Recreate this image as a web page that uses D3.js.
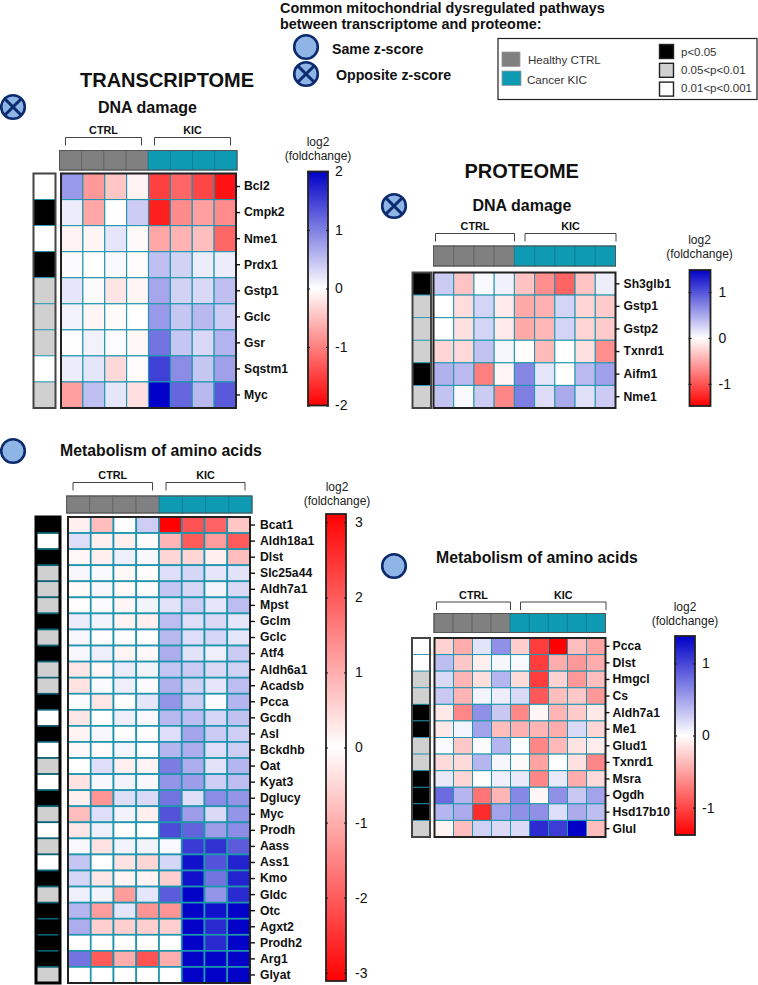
<!DOCTYPE html>
<html>
<head>
<meta charset="utf-8">
<script src="https://d3js.org/d3.v7.min.js"></script>
<style>
  html, body { margin: 0; padding: 0; background: #fff; }
  svg { display: block; }
  text { font-family: "Liberation Sans", Arial, sans-serif; fill: #111; }
  .b { font-weight: bold; }
</style>
</head>
<body>
<script>
// Groups: how many samples are healthy / cancer in each heatmap
const groupsTranscriptome = ["CTRL", "CTRL", "CTRL", "CTRL", "KIC", "KIC", "KIC", "KIC"];
const groupsProteome = ["CTRL", "CTRL", "CTRL", "CTRL", "KIC", "KIC", "KIC", "KIC", "KIC"];

// Transcriptome, DNA damage
const genesA = ["Bcl2", "Cmpk2", "Nme1", "Prdx1", "Gstp1", "Gclc", "Gsr", "Sqstm1", "Myc"];
const sigA = [2, 0, 2, 0, 1, 1, 1, 2, 1];
const valuesA = [
  [0.8, -0.8, -0.45, -0.1, -1.5, -1.2, -1.45, -1.85],
  [0.15, -0.7, 0, 0.4, -1.75, -0.9, -0.75, -0.9],
  [-0.1, -0.08, 0.2, -0.05, -0.7, -0.6, -0.5, -1.2],
  [0.03, 0, 0.05, -0.03, 0.5, 0.35, 0.15, 0.15],
  [0.2, 0.03, -0.2, -0.08, 0.7, 0.35, 0.3, 0.5],
  [0.1, -0.08, -0.03, 0, 0.8, 0.45, 0.55, 0.4],
  [0.01, 0.1, 0.02, -0.07, 1.1, 0.45, 0.3, 0.6],
  [0.15, 0.2, -0.3, -0.03, 1.5, 0.9, 0.45, 0.75],
  [-0.75, 0.5, 0.2, -0.25, 2, 1.2, 0.55, 1.3]
];

// Proteome, DNA damage
const genesB = ["Sh3glb1", "Gstp1", "Gstp2", "Txnrd1", "Aifm1", "Nme1"];
const sigB = [0, 1, 1, 1, 0, 1];
const valuesB = [
  [0.3, -0.35, 0.03, 0.08, -0.35, -0.65, -0.9, -0.35, 0.1],
  [0, -0.2, 0.25, -0.12, -0.5, -0.45, 0.25, -0.25, -0.3],
  [0, -0.18, 0.25, -0.12, -0.5, -0.42, 0.25, -0.25, -0.3],
  [-0.25, -0.22, 0.35, 0.05, -0.02, -0.4, 0, -0.18, -0.65],
  [0.45, 0.4, -0.75, -0.06, 0.7, 0.15, 0, 0.4, 0.55],
  [0.35, 0.03, 0.3, -0.7, 0.75, 0.2, 0.5, 0.18, 0.3]
];

// Transcriptome, metabolism of amino acids
const genesC = ["Bcat1", "Aldh18a1", "Dlst", "Slc25a44", "Aldh7a1", "Mpst", "Gclm", "Gclc", "Atf4", "Aldh6a1",
  "Acadsb", "Pcca", "Gcdh", "Asl", "Bckdhb", "Oat", "Kyat3", "Dglucy", "Myc", "Prodh", "Aass", "Ass1", "Kmo",
  "Gldc", "Otc", "Agxt2", "Prodh2", "Arg1", "Glyat"];
const sigC = [0, 2, 0, 1, 1, 1, 0, 1, 0, 1, 1, 0, 2, 0, 2, 1, 2, 0, 1, 2, 1, 2, 0, 1, 0, 0, 0, 0, 1];
const valuesC = [
  [-0.2, -0.8, 0.03, 0.6, -3.1, -2.1, -1.9, -0.7],
  [0.4, -0.2, -0.2, 0.05, -0.9, -2, -1.2, -2],
  [-0.1, -0.2, 0.2, 0.1, -0.5, -0.5, -0.2, -0.8],
  [0.1, 0.06, -0.08, -0.03, 0.4, 0.5, 0.3, 0.35],
  [-0.05, 0.1, -0.06, 0.04, 0.7, 0.5, 0.15, 0.45],
  [-0.03, 0.05, -0.1, 0.15, 0.35, 0.6, 0.3, 0.8],
  [0.25, 0.15, -0.15, -0.2, 0.8, 0.4, 0.45, 0.3],
  [0.1, -0.03, 0.02, 0, 0.85, 0.4, 0.5, 0.3],
  [0.1, 0.2, -0.12, -0.08, 1, 0.35, 0.2, 0.65],
  [-0.3, -0.1, 0.25, 0.15, 0.7, 0.65, 0.45, 0.55],
  [-0.35, 0.05, 0.2, 0.05, 0.95, 0.55, 0.3, 0.8],
  [0.04, -0.3, -0.02, 0.3, 1.3, 0.6, 0.05, 0.9],
  [-0.3, 0, 0.2, 0.08, 0.85, 0.8, 0.5, 0.75],
  [-0.15, 0.1, 0.03, -0.02, 0.4, 1.1, 0.65, 0.6],
  [-0.08, -0.05, 0.12, 0.02, 0.9, 1, 0.4, 0.6],
  [0, 0.4, -0.2, -0.15, 1.6, 1, 0.35, 0.9],
  [-0.35, 0.1, 0.15, 0.1, 1.3, 1.2, 0.6, 0.8],
  [-0.2, -1.3, 0.4, 0.45, 1.7, 0.4, 1.4, 1.3],
  [-0.8, 0.4, 0.15, -0.2, 2.1, 1.2, 0.45, 1.3],
  [-0.3, 0.2, 0.03, 0, 2.2, 1.9, 1.2, 1.4],
  [0.08, -0.35, 0.15, 0.15, 0.08, 2.4, 2.5, 2],
  [0.7, 0, -0.35, -0.5, 0.5, 2.9, 2.1, 2.7],
  [0.5, -0.3, -0.15, -0.15, -0.6, 2.9, 1.7, 2.7],
  [0.2, 0.15, -1.2, 0.3, 2, 3.1, 1.3, 2.6],
  [0.9, -1.2, 0.3, -1.3, -1.3, 3.1, 2.9, 3.1],
  [1, -0.6, -0.6, -0.6, -0.6, 3.1, 2.6, 3.1],
  [0, 0, 0, 0, 0, 3.1, 2.6, 3.1],
  [1.7, -2, -1, -2.1, -1, 3.1, 3.1, 3.1],
  [0, 0, 0, 0, 0, 3.1, 3.1, 3.1]
];

// Proteome, metabolism of amino acids
const genesD = ["Pcca", "Dlst", "Hmgcl", "Cs", "Aldh7a1", "Me1", "Glud1", "Txnrd1", "Msra", "Ogdh", "Hsd17b10", "Glul"];
const sigD = [2, 2, 1, 1, 0, 0, 1, 1, 0, 0, 0, 1];
const valuesD = [
  [-0.25, -0.45, 0.15, 0.6, -0.27, -1.05, -1.38, -0.35, -0.5],
  [0.35, -0.3, -0.08, 0.05, 0.03, -1.05, -0.45, -0.55, -0.45],
  [0.2, -0.4, -0.18, 0.4, -0.2, -1.05, -0.25, -0.55, -0.35],
  [0.3, -0.4, 0.06, 0.1, 0.2, -0.9, -0.35, -0.3, -0.55],
  [-0.12, -0.65, 0.6, 0.3, -0.65, -0.05, -0.4, -0.28, -0.12],
  [-0.12, 0.06, 0.5, -0.35, -0.42, -0.4, -0.45, 0.2, -0.22],
  [0.03, -0.3, 0.02, 0.4, 0.01, -0.65, -0.38, -0.15, -0.1],
  [-0.2, -0.2, 0.4, 0.05, -0.03, -0.5, 0, -0.17, -0.65],
  [0.12, -0.22, 0, 0.08, 0.12, -0.65, 0.12, -0.45, -0.2],
  [0.8, 0.4, -0.75, -0.4, 0.65, -0.05, 0.6, 0.3, 0.5],
  [0.4, 0.45, -1.15, 0.5, 0.6, 0.6, 0.18, 0.45, 0.35],
  [-0.06, -0.35, 0.25, 0.2, 0.2, 1.15, 1.05, 1.38, -0.35]
];

const sigLabels = ["p<0.05", "0.05<p<0.01", "0.01<p<0.001"];
const groupLabels = ["Healthy CTRL", "Cancer KIC"];

const sigColors = ["#000", "#d0d0d0", "#fff"];
const groupColors = { CTRL: "#808080", KIC: "#0f9ab3" };
const teal = "#2095ad";
const navy = "#0c2a6e";
const circleFill = "#8fb4e6";

const svg = d3.select("body").append("svg").attr("width", 758).attr("height", 985);

const defs = svg.append("defs");

function addText(x, y, str, size, opts = {}) {
  return svg.append("text")
    .attr("x", x).attr("y", y)
    .attr("font-size", size)
    .attr("class", opts.bold ? "b" : null)
    .attr("text-anchor", opts.anchor || "start")
    .style("fill", opts.fill || "#111")
    .text(str);
}

// round badge, with a cross when the z-score is opposite
function badge(cx, cy, crossed) {
  const g = svg.append("g").attr("transform", `translate(${cx},${cy})`);
  g.append("circle").attr("r", 11.8).attr("fill", circleFill).attr("stroke", navy).attr("stroke-width", 2.6);
  if (crossed) {
    const d = 8.3;
    g.append("path").attr("d", `M${-d},${-d}L${d},${d}M${-d},${d}L${d},${-d}`)
      .attr("stroke", navy).attr("stroke-width", 3);
  }
}

function drawHeatmap(p) {
  const x = d3.scaleBand().domain(d3.range(p.groups.length)).range([p.x0, p.x1]);
  const y = d3.scaleBand().domain(p.genes).range([p.y0, p.y1]);
  // the strip on top is a bit wider than the cells in some panels
  const xStrip = d3.scaleBand().domain(d3.range(p.groups.length)).range(p.stripX);

  // white at zero, pure red and dark blue at the ends
  const color = d3.scaleLinear()
    .domain([-p.max, 0, p.max])
    .range(["#ff0000", "#ffffff", "#0000c8"])
    .clamp(true);

  const g = svg.append("g");

  // cells
  p.values.forEach((row, i) => {
    g.selectAll(null)
      .data(row)
      .enter().append("rect")
      .attr("x", (d, j) => x(j))
      .attr("y", y(p.genes[i]))
      .attr("width", x.bandwidth())
      .attr("height", y.bandwidth())
      .attr("fill", d => color(d))
      .attr("stroke", teal)
      .attr("stroke-width", p.cellStroke);
  });
  g.append("rect")
    .attr("x", p.x0).attr("y", p.y0)
    .attr("width", p.x1 - p.x0).attr("height", p.y1 - p.y0)
    .attr("fill", "none").attr("stroke", "#222").attr("stroke-width", 2);

  // gene labels
  const axis = d3.axisRight(y).tickSize(p.tick).tickPadding(p.labelPad);
  const ax = g.append("g").attr("transform", `translate(${p.x1},0)`).call(axis);
  ax.select(".domain").remove();
  ax.selectAll("line").attr("stroke", "#111").attr("stroke-width", 1.4);
  ax.selectAll("text").attr("class", "b").attr("font-size", 12.2)
    .style("font-family", '"Liberation Sans", Arial, sans-serif');

  // significance column
  const sigX = p.sigX;
  g.selectAll(null)
    .data(p.sig)
    .enter().append("rect")
    .attr("x", sigX[0])
    .attr("y", (d, i) => y(p.genes[i]))
    .attr("width", sigX[1] - sigX[0])
    .attr("height", y.bandwidth())
    .attr("fill", d => sigColors[d])
    .attr("stroke", p.sigStroke)
    .attr("stroke-width", p.sigWidth);
  g.append("rect")
    .attr("x", sigX[0]).attr("y", p.y0)
    .attr("width", sigX[1] - sigX[0]).attr("height", p.y1 - p.y0)
    .attr("fill", "none").attr("stroke", p.sigBorder).attr("stroke-width", p.sigBorderWidth);

  // group strip
  g.selectAll(null)
    .data(p.groups)
    .enter().append("rect")
    .attr("x", (d, j) => xStrip(j))
    .attr("y", p.stripY[0])
    .attr("width", xStrip.bandwidth())
    .attr("height", p.stripY[1] - p.stripY[0])
    .attr("fill", d => groupColors[d])
    .attr("stroke", (d, j) => d === "CTRL" ? "#666" : "#0d8298")
    .attr("stroke-width", 1);
  g.append("rect")
    .attr("x", p.stripX[0]).attr("y", p.stripY[0])
    .attr("width", p.stripX[1] - p.stripX[0]).attr("height", p.stripY[1] - p.stripY[0])
    .attr("fill", "none").attr("stroke", "#555").attr("stroke-width", 1);

  // brackets
  p.brackets.forEach(b => {
    g.append("path")
      .attr("d", `M${b.x0},${p.bracketY + 8}V${p.bracketY}H${b.x1}V${p.bracketY + 8}`)
      .attr("fill", "none").attr("stroke", "#444").attr("stroke-width", 1);
    addText((b.x0 + b.x1) / 2, p.bracketY - 3.5, b.label, 10.8, { bold: true, anchor: "middle" });
  });

  // colour bar
  const barId = "bar" + p.id;
  const gradient = defs.append("linearGradient").attr("id", barId)
    .attr("x1", 0).attr("y1", 0).attr("x2", 0).attr("y2", 1);
  const stops = p.barColors;
  stops.forEach((c, i) => {
    gradient.append("stop").attr("offset", i / (stops.length - 1)).attr("stop-color", c);
  });
  const barScale = d3.scaleLinear().domain([-p.max, p.max]).range([p.barY[1], p.barY[0]]);
  g.append("rect")
    .attr("x", p.barX[0]).attr("y", p.barY[0])
    .attr("width", p.barX[1] - p.barX[0]).attr("height", p.barY[1] - p.barY[0])
    .attr("fill", `url(#${barId})`).attr("stroke", "#222").attr("stroke-width", 1.8);

  // hyphen rather than the d3 minus sign, as the reference has
  const barAxis = d3.axisRight(barScale).tickValues(p.barTicks).tickFormat(d => String(d))
    .tickSize(3).tickPadding(p.barPad);
  const bx = g.append("g").attr("transform", `translate(${p.barX[1] - 2},0)`).call(barAxis);
  bx.select(".domain").remove();
  bx.selectAll("line").attr("stroke", "#222").attr("stroke-width", 1.2);
  bx.selectAll("text").attr("font-size", p.barFont)
    .style("font-family", '"Liberation Sans", Arial, sans-serif');
  const bxLeft = d3.axisLeft(barScale).tickValues(p.barTicks).tickFormat("").tickSize(3);
  const bl = g.append("g").attr("transform", `translate(${p.barX[0] + 2},0)`).call(bxLeft);
  bl.select(".domain").remove();
  bl.selectAll("line").attr("stroke", "#222").attr("stroke-width", 1.2);

  const cx = (p.barX[0] + p.barX[1]) / 2 + p.logDx;
  addText(cx, p.logY, "log2", 12, { anchor: "middle", fill: "#222" });
  addText(cx, p.logY + 14, "(foldchange)", 12, { anchor: "middle", fill: "#222" });
}

// Header
addText(280, 13.2, "Common mitochondrial dysregulated pathways", 14.4, { bold: true });
addText(280, 29, "between transcriptome and proteome:", 14.4, { bold: true });
badge(306, 47, false);
badge(306, 74, true);
addText(332, 54, "Same z-score", 14.2, { bold: true });
addText(336, 80, "Opposite z-score", 14.2, { bold: true });

// Legend box
svg.append("rect").attr("x", 498).attr("y", 38.5).attr("width", 259).attr("height", 61)
  .attr("fill", "#fff").attr("stroke", "#222").attr("stroke-width", 1.2);
groupLabels.forEach((label, i) => {
  svg.append("rect").attr("x", 502).attr("y", 52 + i * 19).attr("width", i ? 19 : 18).attr("height", 14.5)
    .attr("fill", i ? "#0f9ab3" : "#808080").attr("stroke", "#999").attr("stroke-width", 0.8);
  addText(528 - i, 64 + i * 19.5, label, 11.6, { fill: "#333" });
});
sigLabels.forEach((label, i) => {
  svg.append("rect").attr("x", 659.5).attr("y", 44.5 + i * 18.8).attr("width", 14).attr("height", 14)
    .attr("fill", sigColors[i]).attr("stroke", "#222").attr("stroke-width", 1.4);
  addText(681, 55.5 + i * 18.3, label, 11.5, { fill: "#333" });
});

// Panel titles
addText(80, 87, "TRANSCRIPTOME", 20, { bold: true });
addText(464.5, 178, "PROTEOME", 20, { bold: true });
addText(98, 113, "DNA damage", 16, { bold: true });
addText(472.5, 211, "DNA damage", 16, { bold: true });
addText(60, 456, "Metabolism of amino acids", 15.8, { bold: true });
addText(436, 563, "Metabolism of amino acids", 15.8, { bold: true });

badge(13, 107, true);
badge(394, 206, true);
badge(13, 451, false);
badge(394, 566, false);

const blueRed = ["#0000c8", "#ffffff", "#ff0000"];

drawHeatmap({
  id: "A", groups: groupsTranscriptome, genes: genesA, sig: sigA, values: valuesA, max: 2,
  x0: 61, x1: 236, y0: 173.5, y1: 408, cellStroke: 1.1, tick: 4, labelPad: 4,
  sigX: [33.5, 55.5], stripX: [59.5, 237], stripY: [150.5, 170], sigStroke: teal, sigWidth: 0.8, sigBorder: "#444", sigBorderWidth: 2,
  bracketY: 137.5,
  brackets: [{ x0: 65.5, x1: 141.5, label: "CTRL" }, { x0: 154.5, x1: 230.5, label: "KIC" }],
  barX: [308, 328], barY: [171.5, 405.5], barColors: blueRed, barTicks: [-2, -1, 0, 1, 2],
  barFont: 14, barPad: 6, logDx: 0, logY: 146
});

drawHeatmap({
  id: "B", groups: groupsProteome, genes: genesB, sig: sigB, values: valuesB, max: 1.48,
  x0: 433.5, x1: 615.5, y0: 272.5, y1: 408, cellStroke: 1, tick: 4, labelPad: 4,
  sigX: [412.5, 431], stripX: [433.5, 615.5], stripY: [246, 266], sigStroke: teal, sigWidth: 0.8, sigBorder: "#444", sigBorderWidth: 2,
  bracketY: 233.5,
  brackets: [{ x0: 435.5, x1: 514.5, label: "CTRL" }, { x0: 525, x1: 616, label: "KIC" }],
  barX: [689.5, 710.5], barY: [270, 406], barColors: blueRed, barTicks: [-1, 0, 1],
  barFont: 14, barPad: 7, logDx: -0.5, logY: 244
});

drawHeatmap({
  id: "C", groups: groupsTranscriptome, genes: genesC, sig: sigC, values: valuesC, max: 3.11,
  x0: 68, x1: 250, y0: 517, y1: 983, cellStroke: 1.7, tick: 5, labelPad: 5,
  sigX: [36, 60], stripX: [66.5, 252], stripY: [496, 513], sigStroke: "#0a6272", sigWidth: 1.6, sigBorder: "#000", sigBorderWidth: 3,
  bracketY: 482.5,
  brackets: [{ x0: 73, x1: 152.5, label: "CTRL" }, { x0: 166, x1: 245, label: "KIC" }],
  // this bar runs red to white to red in the reference
  barX: [326, 346], barY: [514, 981], barColors: ["#ff0000", "#ffffff", "#ff0000"], barTicks: [-3, -2, -1, 0, 1, 2, 3],
  barFont: 14, barPad: 8, logDx: 1, logY: 491
});

drawHeatmap({
  id: "D", groups: groupsProteome, genes: genesD, sig: sigD, values: valuesD, max: 1.38,
  x0: 434.5, x1: 605.5, y0: 638, y1: 837, cellStroke: 1, tick: 4, labelPad: 3,
  sigX: [412, 430], stripX: [434, 605.5], stripY: [613.5, 632.5], sigStroke: teal, sigWidth: 0.8, sigBorder: "#444", sigBorderWidth: 2,
  bracketY: 602,
  brackets: [{ x0: 436.5, x1: 510.5, label: "CTRL" }, { x0: 520.5, x1: 606, label: "KIC" }],
  barX: [675, 695], barY: [636, 835], barColors: blueRed, barTicks: [-1, 0, 1],
  barFont: 14, barPad: 6, logDx: 0, logY: 611
});
</script>
</body>
</html>
